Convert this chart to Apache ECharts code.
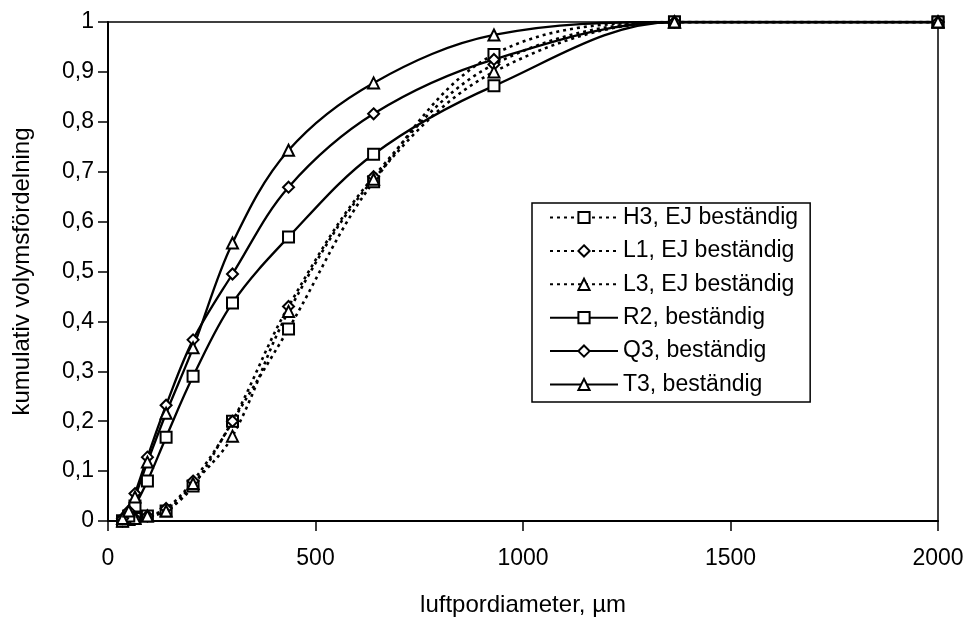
<!DOCTYPE html>
<html>
<head>
<meta charset="utf-8">
<script src="https://cdn.jsdelivr.net/npm/echarts@6/dist/echarts.min.js"></script>
<style>
  html, body { margin: 0; padding: 0; background: #fff; }
  #chart { width: 974px; height: 623px; }
</style>
</head>
<body>
<div id="chart"></div>
<script>
// Air-pore diameter (µm) at which the cumulative volume fraction was measured
const diameters = [35, 50, 65, 95, 140, 205, 300, 435, 640, 930, 1365, 2000];

// Cumulative volume distribution, non-resistant samples (dotted)
const h3 = [0, 0.003, 0.005, 0.01, 0.02, 0.07, 0.2, 0.385, 0.68, 0.935, 1.0, 1.0];
const l1 = [0, 0.003, 0.005, 0.01, 0.025, 0.08, 0.2, 0.43, 0.69, 0.915, 1.0, 1.0];
const l3 = [0, 0.003, 0.005, 0.01, 0.02, 0.075, 0.17, 0.42, 0.685, 0.9, 1.0, 1.0];

// Cumulative volume distribution, resistant samples (solid)
const r2 = [0, 0.01, 0.03, 0.08, 0.168, 0.29, 0.437, 0.569, 0.735, 0.872, 1.0, 1.0];
const q3 = [0.005, 0.02, 0.055, 0.128, 0.232, 0.363, 0.495, 0.669, 0.816, 0.925, 1.0, 1.0];
const t3 = [0.005, 0.02, 0.048, 0.118, 0.216, 0.347, 0.557, 0.743, 0.878, 0.974, 1.0, 1.0];

const seriesNames = [
  'H3, EJ beständig',
  'L1, EJ beständig',
  'L3, EJ beständig',
  'R2, beständig',
  'Q3, beständig',
  'T3, beständig'
];

const pair = arr => diameters.map((d, i) => [d, arr[i]]);

function makeSeries(name, values, symbol, dashed) {
  return {
    name: name,
    type: 'line',
    data: pair(values),
    smooth: 0.35,
    symbol: symbol,
    symbolSize: 11,
    showAllSymbol: true,
    lineStyle: { color: '#000', width: dashed ? 2.6 : 2.3, type: dashed ? [3, 4] : 'solid' },
    itemStyle: { color: '#000', borderColor: '#000', borderWidth: 2.2 },
    emphasis: { disabled: true }
  };
}

const chart = echarts.init(document.getElementById('chart'));
const font = 'Liberation Sans, Arial, sans-serif';

chart.setOption({
  backgroundColor: '#fff',
  animation: false,
  textStyle: { fontFamily: font, color: '#000' },
  grid: { left: 108, right: 36, top: 22, bottom: 102, show: true, borderColor: '#000', borderWidth: 1.5 },
  xAxis: {
    type: 'value',
    min: 0, max: 2000, interval: 500,
    name: 'luftpordiameter, µm',
    nameLocation: 'middle',
    nameGap: 72,
    nameTextStyle: { fontSize: 24, color: '#000', fontFamily: font },
    axisLine: { lineStyle: { color: '#000', width: 2 } },
    axisTick: { inside: false, length: 10, lineStyle: { color: '#000', width: 1.5 } },
    axisLabel: { fontSize: 23, color: '#000', margin: 26, fontFamily: font, formatter: v => String(v) },
    splitLine: { show: false }
  },
  yAxis: {
    type: 'value',
    min: 0, max: 1, interval: 0.1,
    name: 'kumulativ volymsfördelning',
    nameLocation: 'middle',
    nameGap: 74,
    nameTextStyle: { fontSize: 24, color: '#000', fontFamily: font },
    axisLine: { lineStyle: { color: '#000', width: 2 } },
    axisTick: { inside: false, length: 10, lineStyle: { color: '#000', width: 1.5 } },
    axisLabel: {
      fontSize: 23, color: '#000', margin: 14, fontFamily: font,
      formatter: v => (Math.round(v * 10) % 10 === 0 ? String(Math.round(v)) : v.toFixed(1).replace('.', ','))
    },
    splitLine: { show: false }
  },
  legend: {
    orient: 'vertical',
    left: 532,
    top: 203,
    padding: [3, 12, 6, 17],
    itemGap: 10.4,
    itemWidth: 68,
    itemHeight: 14,
    borderColor: '#000',
    borderWidth: 1.5,
    backgroundColor: '#fff',
    textStyle: { fontSize: 23, lineHeight: 23, color: '#000', fontFamily: font },
    data: seriesNames
  },
  series: [
    makeSeries(seriesNames[0], h3, 'emptyRect', true),
    makeSeries(seriesNames[1], l1, 'emptyDiamond', true),
    makeSeries(seriesNames[2], l3, 'emptyTriangle', true),
    makeSeries(seriesNames[3], r2, 'emptyRect', false),
    makeSeries(seriesNames[4], q3, 'emptyDiamond', false),
    makeSeries(seriesNames[5], t3, 'emptyTriangle', false)
  ]
});
</script>
</body>
</html>
